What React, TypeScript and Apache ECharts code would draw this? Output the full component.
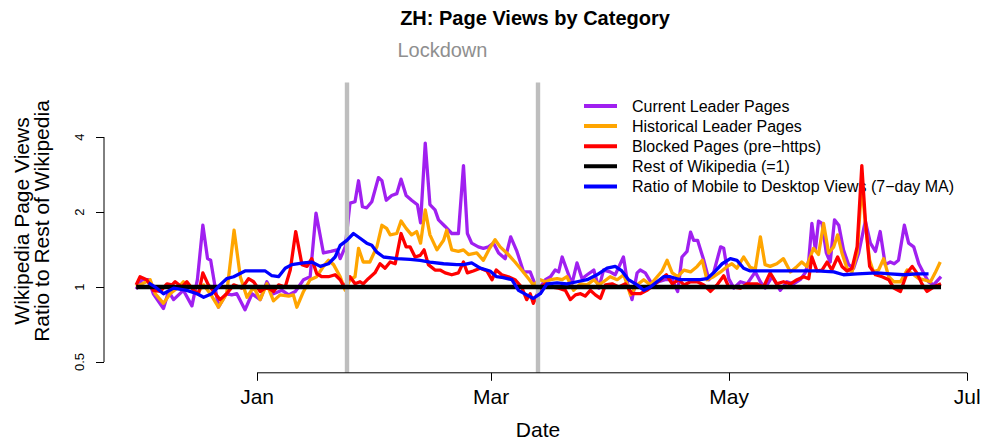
import React, { useEffect, useRef } from "react";
import * as echarts from "echarts";

// x values: days since 2020-01-01 (Jan 1 = 0)
const tickDays = [0, 60, 121, 182];
const tickLabels = ["Jan", "Mar", "May", "Jul"];
const yTicks = [0.5, 1, 2, 4];
const lockdownDays = [23, 72];

const seriesNames = [
  "Current Leader Pages",
  "Historical Leader Pages",
  "Blocked Pages (pre\u2212https)",
  "Rest of Wikipedia (=1)",
  "Ratio of Mobile to Desktop Views (7\u2212day MA)",
];

const currentLeader: [number, number][] = [
  [-31, 0.98], [-29.5, 1.07], [-27.8, 1.07], [-26.6, 0.94], [-24, 0.82], [-22.7, 0.96], [-21.4, 0.89],
  [-18.9, 0.97], [-16.7, 0.84], [-15.3, 1.07], [-13.9, 1.77], [-12.7, 1.3], [-11.9, 1.28], [-9.9, 0.83],
  [-7.9, 0.94], [-6.5, 0.93], [-5.2, 0.94], [-3.1, 0.81], [-1.3, 0.94], [0.8, 0.89], [2.5, 1.05],
  [4.2, 0.94], [6.4, 0.97], [8.1, 0.93], [9.8, 0.96], [11.9, 1.07], [13.6, 1.1], [15.1, 1.98],
  [17.0, 1.37], [18.9, 1.39], [20.5, 1.41], [21.3, 1.3], [22.6, 1.45], [23.8, 2.17], [25.1, 2.2],
  [26, 2.67], [27, 2.1], [28.1, 2.08], [29.4, 2.2], [31.1, 2.75], [32, 2.67], [33.1, 2.23], [34.5, 2.33],
  [35.8, 2.37], [36.9, 2.71], [38.2, 2.33], [39.6, 2.23], [41.1, 2.14], [41.9, 1.81], [43.1, 3.78],
  [44.3, 2.14], [45.6, 2.04], [46.5, 1.86], [48.2, 1.75], [49.9, 1.64], [51.6, 1.64], [52.9, 3.07],
  [53.9, 1.64], [55, 1.5], [56.7, 1.45], [58, 1.43], [59.3, 1.45], [60.6, 1.5], [61.9, 1.37], [63.6, 1.3],
  [65.0, 1.59], [66.6, 1.39], [68.3, 1.15], [70, 1.15], [71.3, 1.02], [72.6, 1.0], [73.9, 1.07],
  [75.2, 1.1], [76.4, 1.17], [77.3, 1.15], [78.2, 1.32], [79.4, 1.17], [80.7, 1.03], [82, 1.25],
  [83.3, 1.08], [84.6, 1.12], [86.3, 1.17], [87.6, 0.99], [88.8, 1.17], [90.5, 1.15], [91.8, 1.12],
  [93.9, 1.32], [95, 1.03], [96.1, 0.89], [97.4, 1.14], [98.2, 1.17], [99.5, 1.14], [101.2, 1.03],
  [102.9, 1.05], [104.6, 1.07], [106.4, 1.07], [107.8, 0.96], [108.9, 1.32], [110.2, 1.39], [111.1, 1.66],
  [111.9, 1.54], [112.9, 1.54], [114.5, 1.28], [115.8, 1.07], [117, 1.14], [118.8, 1.45], [119.6, 1.43],
  [120.9, 1.08], [122.2, 0.99], [123.9, 1.05], [125.6, 1.03], [127.7, 1.15], [129, 1.05], [130.2, 0.99],
  [132, 1.1], [134.1, 0.97], [135.8, 1.05], [137.5, 1.03], [139.2, 1.07], [140.5, 1.14], [141.4, 1.28],
  [142.2, 1.8], [143.1, 1.41], [143.9, 1.84], [144.8, 1.8], [145.9, 1.37], [146.9, 1.26], [148, 1.86],
  [149.1, 1.77], [150.3, 1.41], [151.6, 1.23], [152.9, 1.19], [154.2, 1.37], [155.9, 1.84], [157.2, 1.5],
  [158.5, 1.39], [159.7, 1.67], [161, 1.23], [162.3, 1.26], [163.3, 1.24], [164.4, 1.28], [165.9, 1.77],
  [167, 1.5], [168.3, 1.45], [169.6, 1.24], [170.8, 1.14], [172.1, 1.05], [173.4, 1.02], [175.3, 1.1],
];

const historicalLeader: [number, number][] = [
  [-31, 1.0], [-30, 1.02], [-27.4, 1.07], [-26.1, 0.94], [-24, 0.86], [-22.3, 0.94], [-20.1, 1.0],
  [-18.9, 1.05], [-16.7, 0.99], [-15.4, 0.94], [-13.7, 1.02], [-12, 0.94], [-9.9, 0.83], [-7.8, 0.94],
  [-5.9, 1.69], [-4.3, 1.1], [-2.6, 0.91], [-0.9, 1.0], [0.8, 0.89], [2.5, 1.03], [4.2, 0.88], [5.9, 0.93],
  [8.1, 0.92], [9.3, 0.93], [10.2, 0.83], [11.9, 0.96], [13.6, 1.07], [15.3, 1.1], [17, 1.21], [18.3, 1.28],
  [19.6, 1.23], [21.3, 1.1], [22.6, 0.97], [23.8, 1.07], [25.1, 1.1], [26, 1.43], [27.2, 1.26], [28.9, 1.26],
  [30.7, 1.45], [32, 1.77], [33.2, 1.72], [34.1, 1.62], [35.8, 1.64], [36.9, 1.84], [38.2, 1.72],
  [39.6, 1.62], [40.9, 1.67], [41.9, 1.5], [43.1, 2.04], [44.3, 1.62], [46.1, 1.41], [47.8, 1.54],
  [48.6, 1.69], [49.9, 1.41], [51.6, 1.39], [52.9, 1.41], [54.2, 1.35], [56.3, 1.37], [58, 1.28],
  [59.6, 1.43], [61, 1.55], [62.3, 1.45], [64.4, 1.35], [66.1, 1.26], [67.8, 1.17], [69.6, 1.08],
  [70.8, 1.02], [72.6, 1.07], [73.9, 1.05], [75.2, 1.07], [76.9, 1.08], [78.2, 1.07], [79.4, 1.1],
  [81.1, 0.97], [82.9, 1.03], [84.6, 1.02], [86.3, 1.07], [87.6, 1.02], [88.8, 1.05], [90.5, 1.1],
  [92.3, 1.07], [94, 1.12], [95.7, 0.93], [97.4, 1.02], [99.1, 1.07], [100.8, 1.02], [102.1, 1.08],
  [103.8, 1.16], [105.1, 1.28], [106.4, 1.14], [107.8, 1.1], [109.4, 1.17], [111.1, 1.15], [112.8, 1.21],
  [114.1, 1.28], [115.3, 1.07], [117, 1.1], [118.8, 1.15], [120.5, 1.21], [121.7, 1.24], [123, 1.19],
  [124.7, 1.32], [126.4, 1.2], [127.7, 1.18], [129, 1.59], [130.2, 1.23], [131.5, 1.21], [133.2, 1.24],
  [134.9, 1.3], [136.7, 1.15], [138.4, 1.21], [139.6, 1.26], [140.9, 1.21], [142.6, 1.43], [143.9, 1.35],
  [145.2, 1.8], [146.5, 1.37], [147.8, 1.45], [148.8, 1.62], [149.9, 1.37], [151.2, 1.19], [152.5, 1.15],
  [153.8, 1.37], [155, 2.6], [155.9, 1.8], [157, 1.28], [158, 1.15], [159.3, 1.17], [160.6, 1.3],
  [161.9, 1.1], [163.2, 1.05], [164.9, 1.05], [166.6, 1.17], [168.3, 1.12], [169.6, 1.08], [170.8, 1.07],
  [172.6, 1.05], [173.8, 1.14], [175.1, 1.26],
];

const blockedPages: [number, number][] = [
  [-31, 1.02], [-30, 1.1], [-28.3, 1.07], [-26.6, 0.97], [-24.8, 0.96], [-23.1, 1.03], [-21.8, 1.02],
  [-21, 1.05], [-19.3, 1.0], [-18, 1.05], [-16.3, 0.97], [-15, 0.94], [-13.9, 1.14], [-12.5, 1.02],
  [-10.7, 0.94], [-9.5, 0.89], [-7.8, 0.94], [-6, 1.02], [-3.9, 0.99], [-2.2, 1.08], [-0.9, 1.05],
  [0.8, 0.96], [2.5, 1.0], [4.2, 0.96], [5.5, 1.02], [7.2, 1.0], [8.5, 1.17], [9.9, 1.67], [11.5, 1.23],
  [12.8, 1.21], [14, 1.3], [15.3, 1.13], [16.6, 1.1], [18.3, 1.1], [20, 1.12], [21.3, 1.07], [22.3, 1.0],
  [23.8, 1.1], [25.1, 1.03], [26.4, 1.05], [27.2, 1.03], [28.5, 1.08], [30.2, 1.14], [31.5, 1.24],
  [32.8, 1.19], [34.1, 1.26], [35.4, 1.24], [36.9, 1.64], [38.2, 1.45], [39.2, 1.45], [40.5, 1.32],
  [41.8, 1.34], [42.8, 1.41], [43.9, 1.23], [45.6, 1.17], [46.9, 1.17], [48.2, 1.14], [49.9, 1.12],
  [51.6, 1.14], [52.9, 1.26], [53.9, 1.14], [55.4, 1.16], [57.2, 1.19], [58.9, 1.16], [60.2, 1.07],
  [61.3, 1.17], [62.7, 1.12], [64.4, 1.1], [66.1, 1.07], [67.8, 1.0], [69.1, 0.89], [70, 0.94], [70.8, 0.86],
  [72.6, 1.0], [73.9, 1.03], [75.6, 1.0], [77.3, 0.99], [79, 0.97], [80.3, 0.89], [81.6, 0.93], [82.9, 0.94],
  [84.1, 0.92], [85.4, 0.97], [86.7, 0.93], [88, 0.9], [89.3, 1.02], [91, 1.03], [92.7, 1.0], [94.4, 1.03],
  [96.1, 0.94], [98.2, 0.94], [99.9, 0.97], [101.7, 1.02], [103.4, 1.07], [104.9, 1.12], [106.4, 1.03],
  [108.1, 1.07], [109.4, 1.02], [111.1, 1.05], [112.8, 1.05], [114.5, 1.02], [116.2, 0.96], [117.9, 1.02],
  [119.6, 1.11], [120.9, 1.0], [122.2, 1.0], [123.9, 0.99], [125.6, 1.03], [128.1, 1.03], [129.8, 1.0],
  [131.5, 1.14], [133.2, 1.03], [134.9, 1.05], [136.7, 1.03], [138.4, 1.07], [140.1, 1.1], [141.4, 1.08],
  [142.2, 1.32], [143.5, 1.16], [144.8, 1.17], [146.1, 1.26], [147.3, 1.17], [148.8, 1.32], [149.9, 1.21],
  [151.2, 1.16], [152.5, 1.19], [153.8, 1.45], [155, 3.07], [155.9, 1.86], [157, 1.21], [158.5, 1.12],
  [160.2, 1.1], [161.9, 1.07], [163.2, 0.99], [164.9, 0.96], [166.6, 1.14], [167.9, 1.21], [169.1, 1.14],
  [170.4, 1.03], [171.7, 0.96], [173.4, 1.0], [175.3, 1.03],
];

const restOfWikipedia: [number, number][] = [
  [-31, 1], [175.3, 1],
];

const mobileDesktopRatio: [number, number][] = [
  [-27.8, 1.04], [-26.1, 1.0], [-24, 0.94], [-21.4, 0.99], [-18, 0.97], [-15.4, 0.94], [-13.7, 0.91],
  [-11.6, 0.94], [-9.5, 1.02], [-7.8, 1.08], [-6, 1.1], [-3.1, 1.16], [-0.1, 1.16], [2.1, 1.16],
  [3.8, 1.11], [5.5, 1.1], [7.2, 1.19], [8.9, 1.23], [11.9, 1.25], [14, 1.26], [16.2, 1.21], [18.3, 1.24],
  [20, 1.32], [21.3, 1.47], [23, 1.54], [24.7, 1.64], [26.4, 1.57], [28.1, 1.5], [29.4, 1.47], [30.7, 1.38],
  [32.4, 1.32], [35.8, 1.3], [39.2, 1.29], [41.8, 1.28], [44.3, 1.26], [47.8, 1.24], [51.2, 1.23],
  [52.9, 1.23], [55, 1.25], [57.2, 1.19], [59.7, 1.16], [61.4, 1.1], [63.1, 1.09], [65.3, 1.07], [67, 0.97],
  [69.1, 0.93], [70.8, 0.9], [72.6, 0.94], [74.3, 1.03], [76.9, 1.04], [79.4, 1.03], [82, 1.05],
  [84.6, 1.07], [87.1, 1.12], [89.7, 1.19], [91.8, 1.21], [93.5, 1.16], [95.2, 1.07], [97.4, 1.02],
  [99.1, 0.97], [100.8, 1.0], [102.5, 1.05], [104.2, 1.1], [105.9, 1.1], [108.5, 1.07], [111.1, 1.07],
  [113.6, 1.07], [115.3, 1.08], [117, 1.14], [119.2, 1.24], [121.3, 1.3], [123, 1.28], [124.7, 1.19],
  [126.4, 1.16], [129, 1.16], [130.7, 1.16], [134.9, 1.16], [139.2, 1.16], [143.5, 1.16], [147.8, 1.15],
  [150.3, 1.12], [153.8, 1.13], [158.9, 1.14], [162.3, 1.13], [165.7, 1.12], [169.1, 1.13], [172.1, 1.13],
];

const FONT = '"Liberation Sans", Arial, Helvetica, sans-serif';
const XMIN = -39.24;
const XMAX = 183.24;
const YMIN = 0.4526;
const YMAX = 6.628;

function fmtY(v: number) {
  return String(Number(v.toPrecision(6)));
}

export default function App() {
  const ref = useRef<HTMLDivElement>(null);
  useEffect(() => {
    if (!ref.current) return;
    const chart = echarts.init(ref.current, undefined, { renderer: "svg" });
    const lineSeries = (name: string, data: [number, number][], color: string, width: number, z: number) => ({
      name,
      type: "line",
      data,
      color,
      showSymbol: false,
      symbol: "none",
      silent: true,
      z,
      lineStyle: { color, width, join: "round" },
      itemStyle: { color },
    });
    chart.setOption({
      animation: false,
      textStyle: { fontFamily: FONT },
      grid: { left: 104, right: 10, top: 82.4, bottom: 67.2, containLabel: false, outerBoundsMode: "none" },
      xAxis: {
        type: "value",
        min: XMIN,
        max: XMAX,
        axisLine: { show: false, onZero: false },
        splitLine: { show: false },
        axisTick: { show: true, length: 8, lineStyle: { color: "#000", width: 1 }, customValues: tickDays },
        axisLabel: {
          customValues: tickDays,
          color: "#000",
          fontSize: 21,
          fontFamily: FONT,
          margin: 13,
          formatter: (v: number) => {
            const i = tickDays.indexOf(Math.round(v));
            return i >= 0 ? tickLabels[i] : "";
          },
        },
        name: "Date",
        nameLocation: "middle",
        nameGap: 49,
        nameTextStyle: { color: "#000", fontSize: 21, fontFamily: FONT, lineHeight: 16 },
      },
      yAxis: {
        type: "log",
        logBase: 2,
        min: YMIN,
        max: YMAX,
        axisLine: { show: false, onZero: false },
        splitLine: { show: false },
        minorTick: { show: false },
        axisTick: { show: true, length: 8, lineStyle: { color: "#000", width: 1 }, customValues: yTicks },
        axisLabel: {
          customValues: yTicks,
          rotate: 90,
          color: "#000",
          fontSize: 13,
          fontFamily: FONT,
          margin: 18,
          formatter: (v: number) => fmtY(v),
        },
      },
      legend: {
        orient: "vertical",
        left: 584,
        top: 98,
        padding: 0,
        icon: "rect",
        itemWidth: 33,
        itemHeight: 4,
        itemGap: 4.1,
        selectedMode: false,
        data: seriesNames,
        textStyle: { color: "#000", fontSize: 16, fontFamily: FONT, lineHeight: 16, padding: [0, 0, 0, 10] },
      },
      graphic: [
        {
          type: "text",
          x: 535,
          y: 18,
          style: {
            text: "ZH: Page Views by Category",
            fontSize: 20,
            fontWeight: "bold",
            fontFamily: FONT,
            fill: "#000",
            align: "center",
            verticalAlign: "middle",
          },
        },
        {
          type: "text",
          x: 31,
          y: 221,
          rotation: Math.PI / 2,
          style: {
            text: "Wikipedia Page Views\nRatio to Rest of Wikipedia",
            fontSize: 21,
            fontFamily: FONT,
            lineHeight: 20,
            fill: "#000",
            align: "center",
            verticalAlign: "middle",
          },
        },
      ],
      series: [
        lineSeries(seriesNames[0], currentLeader, "#A020F0", 3.3, 2),
        lineSeries(seriesNames[1], historicalLeader, "#FFA500", 3.3, 3),
        lineSeries(seriesNames[2], blockedPages, "#FF0000", 3.3, 4),
        {
          ...lineSeries(seriesNames[3], restOfWikipedia, "#000000", 4.4, 5),
          markLine: {
            silent: true,
            symbol: ["none", "none"],
            label: { show: false },
            lineStyle: { color: "#BEBEBE", width: 4.4, type: "solid" },
            data: lockdownDays.map((d) => ({ xAxis: d })),
          },
          markArea: {
            silent: true,
            itemStyle: { color: "rgba(0,0,0,0)" },
            label: {
              show: true,
              position: "top",
              distance: 22,
              formatter: "Lockdown",
              color: "#8F8F8F",
              fontSize: 20,
              fontFamily: FONT,
            },
            data: [[{ xAxis: lockdownDays[0] }, { xAxis: lockdownDays[1] }]],
          },
        },
        lineSeries(seriesNames[4], mobileDesktopRatio, "#0000FF", 3.3, 6),
        {
          name: "xAxisLine",
          type: "line",
          data: [[tickDays[0], YMIN], [tickDays[tickDays.length - 1], YMIN]],
          showSymbol: false,
          symbol: "none",
          silent: true,
          clip: false,
          z: 7,
          lineStyle: { color: "#000", width: 1 },
        },
        {
          name: "yAxisLine",
          type: "line",
          data: [[XMIN, yTicks[0]], [XMIN, yTicks[yTicks.length - 1]]],
          showSymbol: false,
          symbol: "none",
          silent: true,
          clip: false,
          z: 7,
          lineStyle: { color: "#000", width: 1 },
        },
      ],
    });
    return () => chart.dispose();
  }, []);
  return (
    <div
      ref={ref}
      style={{ position: "fixed", left: 0, top: 0, width: 982, height: 440, background: "#fff" }}
    />
  );
}
